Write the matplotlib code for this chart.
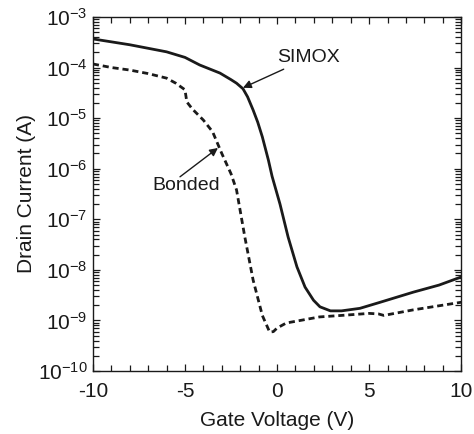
import matplotlib
matplotlib.use("Agg")
import matplotlib.pyplot as plt
import matplotlib.ticker as mticker
import numpy as np

plt.rcParams["font.family"] = ["Liberation Sans", "DejaVu Sans"]
plt.rcParams["mathtext.fontset"] = "custom"
plt.rcParams["mathtext.rm"] = "Liberation Sans"
plt.rcParams["mathtext.it"] = "Liberation Sans"

# SIMOX transfer curve (gate voltage in V, log10 of drain current in A)
simox_v = [-10, -8, -6, -5, -4.2, -3.1, -2.5, -2.2, -1.85, -1.6, -1.3, -1.05, -0.8,
           -0.47, -0.27, 0.16, 0.6, 1.08, 1.52, 1.98, 2.33, 2.9, 3.5, 4.5, 5.6,
           7.4, 8.8, 10]
simox_log = [-3.435, -3.55, -3.69, -3.80, -3.95, -4.11, -4.24, -4.31, -4.42, -4.58,
             -4.84, -5.08, -5.37, -5.83, -6.15, -6.70, -7.35, -7.94, -8.34, -8.60,
             -8.73, -8.81, -8.81, -8.76, -8.64, -8.44, -8.30, -8.14]

# Bonded transfer curve
bonded_v = [-10, -9, -8, -7, -6, -5.5, -5.0, -4.9, -4.6, -4.0, -3.5, -3.0, -2.5,
            -2.2, -1.75, -1.3, -0.8, -0.4, -0.2, 0.0, 0.5, 1.4, 2.3, 3.5, 5.0,
            5.5, 5.8, 7.4, 10]
bonded_log = [-3.93, -4.0, -4.05, -4.12, -4.21, -4.31, -4.44, -4.68, -4.82, -5.04,
              -5.27, -5.70, -6.10, -6.42, -7.35, -8.2, -8.9, -9.23, -9.22, -9.15,
              -9.05, -8.99, -8.93, -8.90, -8.86, -8.87, -8.90, -8.79, -8.64]

fig = plt.figure(figsize=(4.74, 4.34), dpi=100)
ax = fig.add_axes([0.196, 0.145, 0.777, 0.816])

ax.plot(simox_v, 10 ** np.array(simox_log), color="#1a1a1a", lw=2.0)
ax.plot(bonded_v, 10 ** np.array(bonded_log), color="#1a1a1a", lw=2.0,
        dashes=(2.2, 1.4))

ax.set_yscale("log")
ax.set_xlim(-10, 10)
ax.set_ylim(1e-10, 1e-3)
ax.set_xticks([-10, -5, 0, 5, 10])
ax.set_xticklabels(["-10", "-5", "0", "5", "10"])
ax.xaxis.set_minor_locator(mticker.MultipleLocator(1))
ax.yaxis.set_major_locator(mticker.LogLocator(base=10, numticks=20))
ax.yaxis.set_minor_locator(mticker.LogLocator(base=10, subs=np.arange(2, 10), numticks=20))
ax.yaxis.set_minor_formatter(mticker.NullFormatter())
ax.yaxis.set_major_formatter(mticker.FuncFormatter(
    lambda v, p: r"$10^{\mathrm{-%d}}$" % abs(round(np.log10(v)))))

ax.tick_params(which="both", direction="in", top=True, right=True,
               labelsize=15, width=0.9, colors="#1a1a1a")
ax.tick_params(which="major", length=5)
ax.tick_params(which="minor", length=4)
ax.tick_params(axis="x", which="major", pad=8)
ax.tick_params(axis="y", which="major", pad=4)
for s in ax.spines.values():
    s.set_linewidth(1.0)
    s.set_color("#1a1a1a")

ax.set_xlabel("Gate Voltage (V)", fontsize=15, color="#1a1a1a", labelpad=7)
ax.set_ylabel("Drain Current (A)", fontsize=15, color="#1a1a1a", labelpad=1)

arrow = dict(arrowstyle="-|>", color="#1a1a1a", lw=1.0, mutation_scale=12,
             shrinkA=0, shrinkB=0)
ax.annotate("SIMOX", xy=(-1.85, 10 ** -4.40), xytext=(0.0, 10 ** -3.81),
            fontsize=14, ha="left", va="center", arrowprops=arrow,
            color="#1a1a1a")
ax.annotate("", xy=(-3.21, 10 ** -5.59), xytext=(-5.27, 10 ** -6.16),
            arrowprops=arrow)
ax.text(-4.95, 10 ** -6.34, "Bonded", fontsize=14, ha="center", va="center",
        color="#1a1a1a")

fig.savefig("out.png", dpi=100)
